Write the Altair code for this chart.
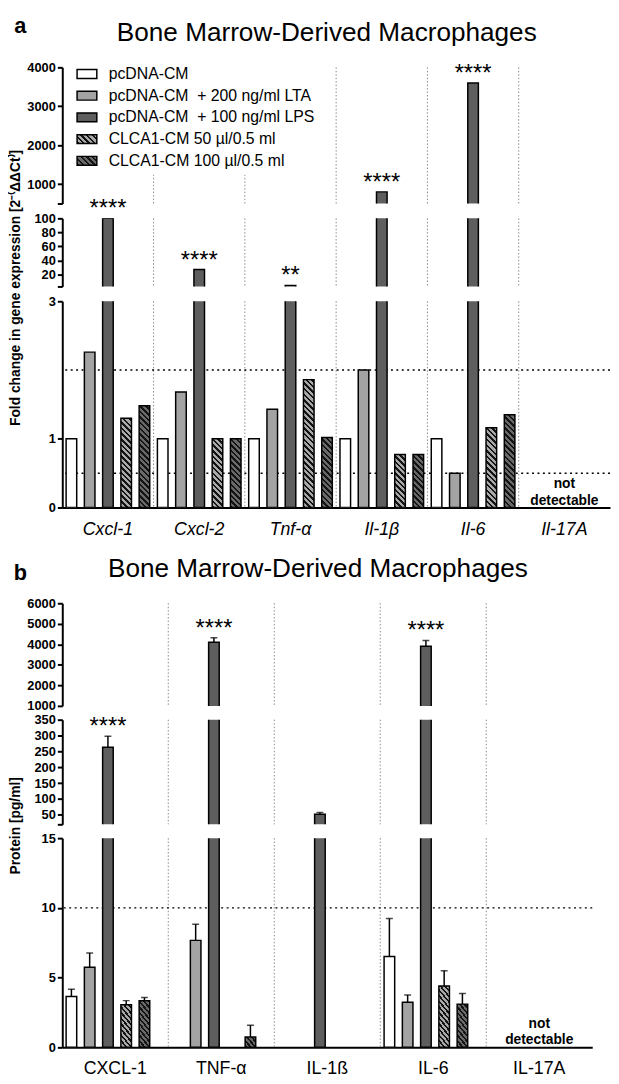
import altair as alt
import pandas as pd

# ---------------- data ----------------
SERIES = ["pcDNA-CM", "pcDNA-CM\u00a0 + 200 ng/ml LTA", "pcDNA-CM\u00a0 + 100 ng/ml LPS",
          "CLCA1-CM 50 \u00b5l/0.5 ml", "CLCA1-CM 100 \u00b5l/0.5 ml"]

GENES_A = ["Cxcl-1", "Cxcl-2", "Tnf-\u03b1", "Il-1\u03b2", "Il-6", "Il-17A"]
A_CTRL = [1.0, 1.0, 1.0, 1.0, 1.0, None]
A_LTA = [2.26, 1.68, 1.43, 2.0, 0.5, None]
A_LPS = [100, 27, 4.4, 800, 3600, None]
A_CLCA50 = [1.30, 1.0, 1.86, 0.77, 1.16, None]
A_CLCA100 = [1.48, 1.0, 1.02, 0.77, 1.35, None]
A_SIG = ["****", "****", "**", "****", "****", ""]
A_REF = [0.5, 2]

PROT_B = ["CXCL-1", "TNF-\u03b1", "IL-1\u00df", "IL-6", "IL-17A"]
B_CTRL = [3.65, None, None, 6.52, None]
B_CTRL_ERR = [4.17, None, None, 9.24, None]
B_LTA = [5.75, 7.67, None, 3.23, None]
B_LTA_ERR = [6.76, 8.83, None, 3.75, None]
B_LPS = [263, 4100, 52, 3910, None]
B_LPS_ERR = [298, 4320, 57, 4190, None]
B_CLCA50 = [3.06, None, None, 4.40, None]
B_CLCA50_ERR = [3.35, None, None, 5.50, None]
B_CLCA100 = [3.34, 0.75, None, 3.10, None]
B_CLCA100_ERR = [3.58, 1.58, None, 3.86, None]
B_SIG = ["****", "****", "", "****", ""]
B_REF = [10]

ND_TEXT = "not detectable"
TITLE = "Bone Marrow-Derived Macrophages"
YTITLE_A = "Fold change in gene expression [2\u207b\u207d\u0394\u0394Ct\u207e]"
YTITLE_B = "Protein [pg/ml]"

# axis segments: (lo, hi, ticks, hidden tick labels)
A_SEGS = [(500, 4000, [500, 1000, 2000, 3000, 4000], [500]),
          (3, 100, [3, 20, 40, 60, 80, 100], [3]),
          (0, 3, [0, 0.5, 1, 2, 3], [0.5])]
B_SEGS = [(1000, 6000, [1000, 2000, 3000, 4000, 5000, 6000], []),
          (20, 350, [20, 50, 100, 150, 200, 250, 300, 350], [20]),
          (0, 15, [0, 5, 10, 15], [])]

# ---------------- styling ----------------
FONT = "Liberation Sans"
COLORS = ["#ffffff", "#a3a3a3", "#5e5e5e"]
HATCH_BG = ["#a9a9a9", "#696969"]
STRIPE = "#141414"
L_GRAD = 200.0
PERIOD = 5.7
FRAC = 0.45


def stops_js(bg):
    parts = []
    n = int(L_GRAD / PERIOD) + 1
    for i in range(n):
        a = min(i * PERIOD / L_GRAD, 1)
        b = min((i + FRAC) * PERIOD / L_GRAD, 1)
        e = min((i + 1) * PERIOD / L_GRAD, 1)
        for off, col in ((a, STRIPE), (b, STRIPE), (b, bg), (e, bg)):
            parts.append("{offset:%.5f,color:'%s'}" % (off, col))
    return "[" + ",".join(parts) + "]"


def grad_expr(bg, w, h_expr):
    d = "(%.4f+pow(%s,2))" % (w * w, h_expr)
    return ("{gradient:'linear',x1:0,y1:1,x2:%.4f/%s,y2:1-%.4f*(%s)/%s,stops:%s}"
            % (L_GRAD * w, d, L_GRAD, h_expr, d, stops_js(bg)))


FILL_RANGE = COLORS + [{"expr": grad_expr(HATCH_BG[0], 20, "9")},
                       {"expr": grad_expr(HATCH_BG[1], 20, "9")}]


def make_df(groups, vals, errs=None):
    rows = []
    for si, s in enumerate(SERIES):
        for gi, g in enumerate(groups):
            v = vals[si][gi]
            if v is None:
                continue
            e = errs[si][gi] if errs is not None else None
            rows.append({"g": g, "s": s, "v": v, "e": e})
    return pd.DataFrame(rows)


def make_sig(groups, sig, lps, lps_err=None):
    rows = []
    for gi, g in enumerate(groups):
        if not sig[gi]:
            continue
        yv = lps_err[gi] if lps_err is not None else lps[gi]
        rows.append({"g": g, "s": SERIES[2], "t": sig[gi], "yv": yv})
    return pd.DataFrame(rows)


df_a = make_df(GENES_A, [A_CTRL, A_LTA, A_LPS, A_CLCA50, A_CLCA100])
sig_a = make_sig(GENES_A, A_SIG, A_LPS)
df_b = make_df(PROT_B, [B_CTRL, B_LTA, B_LPS, B_CLCA50, B_CLCA100],
               [B_CTRL_ERR, B_LTA_ERR, B_LPS_ERR, B_CLCA50_ERR, B_CLCA100_ERR])
sig_b = make_sig(PROT_B, B_SIG, B_LPS, B_LPS_ERR)

LEGEND = alt.Legend(title=None, orient="none", legendX=8, legendY=-10.3,
                    symbolType="M-1,-0.45L1,-0.45L1,0.45L-1,0.45Z", symbolSize=400,
                    symbolStrokeColor="black", symbolStrokeWidth=1.5,
                    labelFont=FONT, labelFontSize=16, labelColor="black", labelLimit=400,
                    labelOffset=11, rowPadding=3, fillColor="white", padding=6, zindex=1)


def panel(groups, df, sig_df, refs, segs, W, heights, spacing, pi, po, italic,
          ytitle, title_seg, title_y, letter, letter_y, title_offset, legend):
    charts = []
    nseg = len(segs)
    for k, ((lo, hi, ticks, hidden), H) in enumerate(zip(segs, heights)):
        is_top = k == 0
        is_low = k == nseg - 1
        xscale = alt.Scale(domain=groups, paddingInner=0, paddingOuter=0)
        oscale = alt.Scale(domain=SERIES, paddingInner=pi, paddingOuter=po)
        yscale = alt.Scale(domain=[lo, hi], nice=False, zero=False)
        if is_low:
            xaxis = alt.Axis(title=None, labelAngle=0, ticks=False, domainColor="black",
                             domainWidth=2, labelFont=FONT, labelFontSize=18,
                             labelFontStyle="italic" if italic else "normal",
                             labelColor="black", labelPadding=13, labelOverlap=False)
        else:
            xaxis = None
        if hidden:
            lab = "(" + " || ".join("datum.value == %s" % h for h in hidden) + ") ? '' : datum.label"
        else:
            lab = "datum.label"
        ykw = dict(values=ticks, format="d", labelExpr=lab, domainColor="black", domainWidth=2,
                   tickColor="black", tickWidth=2, tickSize=5, labelFont=FONT, labelFontSize=13,
                   labelFontWeight="bold", labelColor="black", labelPadding=2, grid=False,
                   labelOverlap=False)
        if k == title_seg:
            ykw.update(title=ytitle, titleX=-40, titleY=title_y, titleFont=FONT,
                       titleFontSize=14, titleFontWeight="bold", titleColor="black")
        else:
            ykw.update(title=None)
        yaxis = alt.Axis(**ykw)

        def X(**kw):
            return alt.X("g:N", sort=groups, scale=xscale, axis=xaxis, **kw)

        XO = alt.XOffset("s:N", sort=SERIES, scale=oscale)
        in_seg = "datum.v > %s" % lo if lo > 0 else "true"

        layers = []
        layers.append(alt.Chart(pd.DataFrame({"g": groups[:-1]}))
                      .mark_rule(color="#8a8a8a", strokeWidth=1, strokeDash=[1.5, 2])
                      .encode(x=X(bandPosition=1)))
        layers.append(alt.Chart(pd.DataFrame({"r": refs}))
                      .transform_filter("datum.r >= %s && datum.r <= %s" % (lo, hi))
                      .mark_rule(color="black", strokeWidth=1.5, strokeDash=[2, 3.5])
                      .encode(y=alt.Y("r:Q", scale=yscale, axis=yaxis)))
        layers.append(alt.Chart(df)
                      .transform_filter(alt.FieldOneOfPredicate(field="s", oneOf=SERIES[:3]))
                      .transform_filter(in_seg)
                      .mark_bar(clip=True, stroke="black", strokeWidth=1.5)
                      .encode(x=X(), xOffset=XO,
                              y=alt.Y("v:Q", scale=yscale, axis=yaxis), y2=alt.datum(0),
                              fill=alt.Fill("s:N", scale=alt.Scale(domain=SERIES, range=FILL_RANGE),
                                            legend=LEGEND if (legend and is_top) else None)))
        if is_low:
            K = H / float(hi - lo)
            bw = (W / len(groups)) / (len(SERIES) - pi + 2 * po) * (1 - pi)
            for idx, bg in ((3, HATCH_BG[0]), (4, HATCH_BG[1])):
                layers.append(alt.Chart(df)
                              .transform_filter(alt.FieldEqualPredicate(field="s", equal=SERIES[idx]))
                              .transform_calculate(grad=grad_expr(bg, bw, "(datum.v*%.5f)" % K))
                              .mark_bar(clip=True, stroke="black", strokeWidth=1.5)
                              .encode(x=X(), xOffset=XO,
                                      y=alt.Y("v:Q", scale=yscale, axis=yaxis), y2=alt.datum(0),
                                      fill=alt.Fill("grad:N", scale=None)))
        if df["e"].notna().any():
            layers.append(alt.Chart(df).transform_filter("isValid(datum.e)")
                          .transform_filter("datum.e > %s" % lo if lo > 0 else "true")
                          .mark_rule(clip=True, color="black", strokeWidth=1.5)
                          .encode(x=X(), xOffset=XO, y=alt.Y("v:Q", scale=yscale, axis=yaxis),
                                  y2="e:Q"))
            layers.append(alt.Chart(df).transform_filter("isValid(datum.e)")
                          .transform_filter("datum.e > %s && datum.e <= %s" % (lo, hi))
                          .mark_tick(clip=True, color="black", thickness=1.5, size=7)
                          .encode(x=X(), xOffset=XO, y=alt.Y("e:Q", scale=yscale, axis=yaxis)))
        layers.append(alt.Chart(sig_df)
                      .transform_filter("datum.yv > %s && datum.yv <= %s" % (lo, hi))
                      .mark_text(fontSize=24, baseline="alphabetic", dy=-2, color="black", font=FONT)
                      .encode(x=X(), xOffset=XO, y=alt.Y("yv:Q", scale=yscale, axis=yaxis),
                              text="t:N"))
        if is_low:
            layers.append(alt.Chart(pd.DataFrame({"g": [groups[-1]], "t": [ND_TEXT]}))
                          .mark_text(fontSize=14, fontWeight="bold", baseline="bottom", lineBreak=" ",
                                     lineHeight=16.7, dy=-16.7, font=FONT, color="black")
                          .encode(x=X(), y=alt.value(H), text="t:N"))
        props = dict(width=W, height=H)
        if is_top:
            layers.append(alt.Chart(pd.DataFrame({"t": [letter]}))
                          .mark_text(fontSize=22, fontWeight="bold", baseline="alphabetic",
                                     align="center", font=FONT, color="black")
                          .encode(text="t:N", x=alt.value(-42.5), y=alt.value(letter_y)))
            props["title"] = alt.TitleParams(text=TITLE, fontSize=26.5, font=FONT, fontWeight="normal",
                                             anchor="middle", frame="group", offset=title_offset,
                                             baseline="alphabetic", dx=-9.5, color="black")
        charts.append(alt.layer(*layers).properties(**props))
    return alt.vconcat(*charts, spacing=spacing, bounds="flush")


panel_a = panel(GENES_A, df_a, sig_a, A_REF, A_SEGS, 555, [138, 69, 209], 15, 0.42, 0.21, True,
                YTITLE_A, 1, 70, "a", -34.8, -53, True)
panel_b = panel(PROT_B, df_b, sig_b, B_REF, B_SEGS, 537, [104, 106, 212], 14, 0.4, 0.2, False,
                YTITLE_B, 1, 107, "b", -23.5, -41.2, False)

chart = (alt.vconcat(panel_a, panel_b, spacing=18)
         .properties(padding={"left": 0, "top": 0, "right": 0, "bottom": 0})
         .configure(font=FONT)
         .configure_view(strokeOpacity=0))

chart.save("out.html", embed_options={"renderer": "svg", "actions": False})
